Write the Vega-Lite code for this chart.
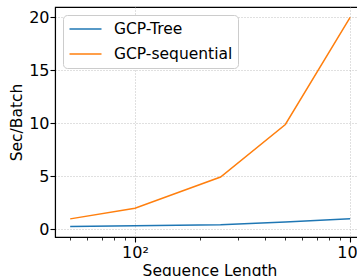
{
  "$schema": "https://vega.github.io/schema/vega-lite/v6.json",
  "width": 309,
  "height": 230,
  "autosize": "none",
  "padding": {"left": 55, "top": 7, "right": 0, "bottom": 39},
  "background": "white",
  "config": {
    "font": "DejaVu Sans",
    "view": {"stroke": "black", "strokeWidth": 1.1},
    "axis": {
      "labelFont": "DejaVu Sans",
      "titleFont": "DejaVu Sans",
      "labelFontSize": 16,
      "titleFontSize": 15.5,
      "titleFontWeight": "normal",
      "labelColor": "black",
      "titleColor": "black",
      "domainColor": "black",
      "tickColor": "black",
      "domainWidth": 1.1,
      "tickWidth": 1.1
    }
  },
  "data": {
    "values": [
      {"length": 50, "sec": 0.28, "model": "GCP-Tree"},
      {"length": 100, "sec": 0.35, "model": "GCP-Tree"},
      {"length": 250, "sec": 0.45, "model": "GCP-Tree"},
      {"length": 500, "sec": 0.7, "model": "GCP-Tree"},
      {"length": 1000, "sec": 1.0, "model": "GCP-Tree"},
      {"length": 50, "sec": 1.0, "model": "GCP-sequential"},
      {"length": 100, "sec": 2.0, "model": "GCP-sequential"},
      {"length": 250, "sec": 4.95, "model": "GCP-sequential"},
      {"length": 500, "sec": 9.9, "model": "GCP-sequential"},
      {"length": 1000, "sec": 20.0, "model": "GCP-sequential"}
    ]
  },
  "layer": [
    {
      "mark": {"type": "line", "strokeWidth": 1.5},
      "encoding": {
        "x": {
          "field": "length",
          "type": "quantitative",
          "scale": {"type": "log", "domain": [42.5, 1160], "nice": false},
          "axis": {
            "orient": "bottom",
            "values": [100, 1000],
            "labelExpr": "datum.value == 100 ? '10²' : '10³'",
            "title": "Sequence Length",
            "tickSize": 5,
            "labelPadding": 2,
            "titlePadding": 3,
            "grid": true,
            "gridDash": [1, 2],
            "gridColor": "#b0b0b0",
            "gridWidth": 0.8
          }
        },
        "y": {
          "field": "sec",
          "type": "quantitative",
          "scale": {"domain": [-0.71, 20.98], "nice": false, "zero": false},
          "axis": {
            "values": [0, 5, 10, 15, 20],
            "title": "Sec/Batch",
            "tickSize": 5,
            "labelPadding": 1,
            "titlePadding": 4,
            "grid": true,
            "gridDash": [1, 2],
            "gridColor": "#b0b0b0",
            "gridWidth": 0.8
          }
        },
        "color": {
          "field": "model",
          "type": "nominal",
          "scale": {"domain": ["GCP-Tree", "GCP-sequential"], "range": ["#1f77b4", "#ff7f0e"]},
          "legend": {
            "title": null,
            "orient": "top-left",
            "offset": 8,
            "padding": 5,
            "symbolType": "M-2,0H2",
            "symbolSize": 256,
            "symbolOffset": 8.5,
            "symbolStrokeWidth": 1.5,
            "labelFontSize": 15.5,
            "labelFont": "DejaVu Sans",
            "labelColor": "black",
            "labelOffset": 19.5,
            "rowPadding": 7,
            "fillColor": "white",
            "strokeColor": "#cccccc",
            "cornerRadius": 4
          }
        }
      }
    },
    {
      "mark": {"type": "line", "opacity": 0},
      "encoding": {
        "x": {
          "field": "length",
          "type": "quantitative",
          "axis": {
            "orient": "bottom",
            "values": [50, 60, 70, 80, 90, 200, 300, 400, 500, 600, 700, 800, 900],
            "labels": false,
            "title": null,
            "domain": false,
            "grid": false,
            "tickSize": 3,
            "tickWidth": 0.8
          }
        },
        "y": {"field": "sec", "type": "quantitative"},
        "detail": {"field": "model"}
      }
    }
  ],
  "resolve": {"axis": {"x": "independent"}}
}
